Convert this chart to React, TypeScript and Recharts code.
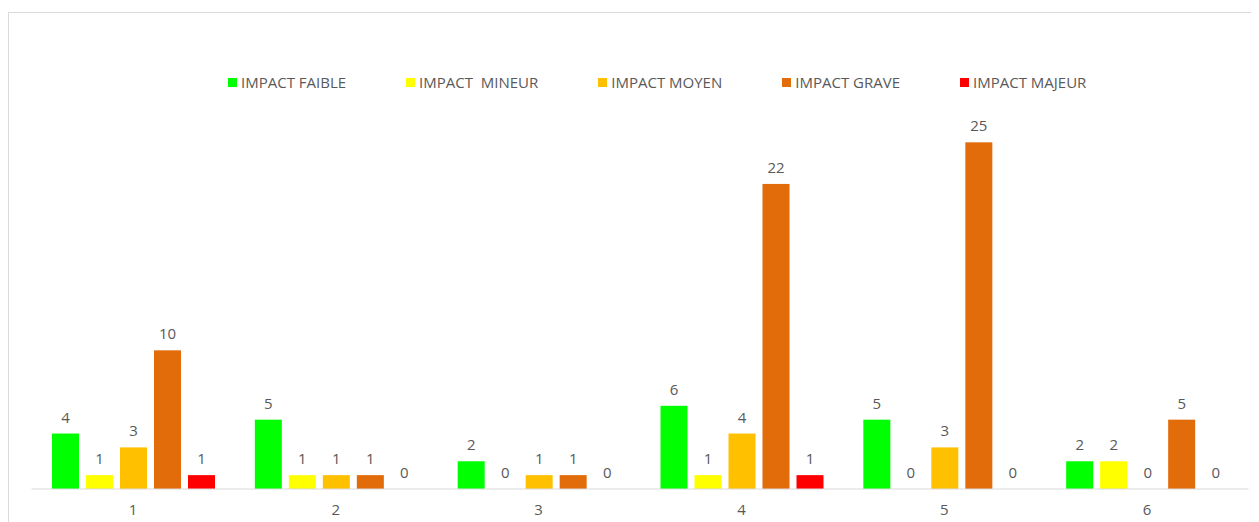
import { BarChart, Bar, XAxis, YAxis, Legend } from 'recharts'

const categories = ['1', '2', '3', '4', '5', '6']
const seriesNames = ['IMPACT FAIBLE', 'IMPACT  MINEUR', 'IMPACT MOYEN', 'IMPACT GRAVE', 'IMPACT MAJEUR']
const seriesColors = ['#00ff00', '#ffff00', '#ffc000', '#e26b0a', '#ff0000']

const faible = [4, 5, 2, 6, 5, 2]
const mineur = [1, 1, 0, 1, 0, 2]
const moyen = [3, 1, 1, 4, 3, 0]
const grave = [10, 1, 1, 22, 25, 5]
const majeur = [1, 0, 0, 1, 0, 0]

const seriesValues = [faible, mineur, moyen, grave, majeur]
const keys = ['s0', 's1', 's2', 's3', 's4']

const data = categories.map((c, i) => {
  const row: Record<string, string | number> = { cat: c }
  keys.forEach((k, j) => {
    row[k] = seriesValues[j][i]
  })
  return row
})

const FONT = "'Open Sans', 'Liberation Sans', sans-serif"
const TEXT = '#595959'

function LegendContent() {
  return (
    <div style={{ display: 'flex', gap: 60, paddingLeft: 219, fontFamily: FONT, fontSize: 15, color: TEXT, lineHeight: '18px' }}>
      {seriesNames.map((n, i) => (
        <div key={n} style={{ display: 'flex', alignItems: 'center' }}>
          <span style={{ width: 9, height: 9, background: seriesColors[i], marginRight: 4 }} />
          <span style={{ whiteSpace: 'pre' }}>{n}</span>
        </div>
      ))}
    </div>
  )
}

// bar + its value label; zero bars still get their "0"
const BarWithLabel = (props: any) => {
  const { x, y, width, height, fill, value } = props
  const v = Array.isArray(value) ? value[1] - value[0] : value
  return (
    <g>
      {height > 0 && <rect x={x} y={y} width={width} height={height} fill={fill} />}
      <text x={x + width / 2} y={y - 11} textAnchor="middle" fill={TEXT} fontSize={15} fontFamily={FONT}>
        {v}
      </text>
    </g>
  )
}

export default function App() {
  return (
    <div style={{ marginTop: 4, width: 1244, height: 520, border: '1px solid #d9d9d9', fontFamily: FONT }}>
      <BarChart
        width={1244}
        height={520}
        data={data}
        margin={{ top: 60, right: 4.5, left: 22.5, bottom: 14 }}
        barCategoryGap={20.5}
        barGap={7}
      >
        <XAxis
          dataKey="cat"
          axisLine={{ stroke: '#d9d9d9' }}
          tickLine={false}
          tick={{ fill: TEXT, fontSize: 15 }}
          tickMargin={9}
        />
        <YAxis hide domain={[0, 30]} />
        <Legend
          verticalAlign="middle"
          align="center"
          content={<LegendContent />}
          wrapperStyle={{ top: 60, left: 0, width: 1244, height: 18 }}
        />
        {keys.map((k, i) => (
          <Bar
            key={k}
            dataKey={k}
            name={seriesNames[i]}
            fill={seriesColors[i]}
            isAnimationActive={false}
            shape={<BarWithLabel />}
          />
        ))}
      </BarChart>
    </div>
  )
}
